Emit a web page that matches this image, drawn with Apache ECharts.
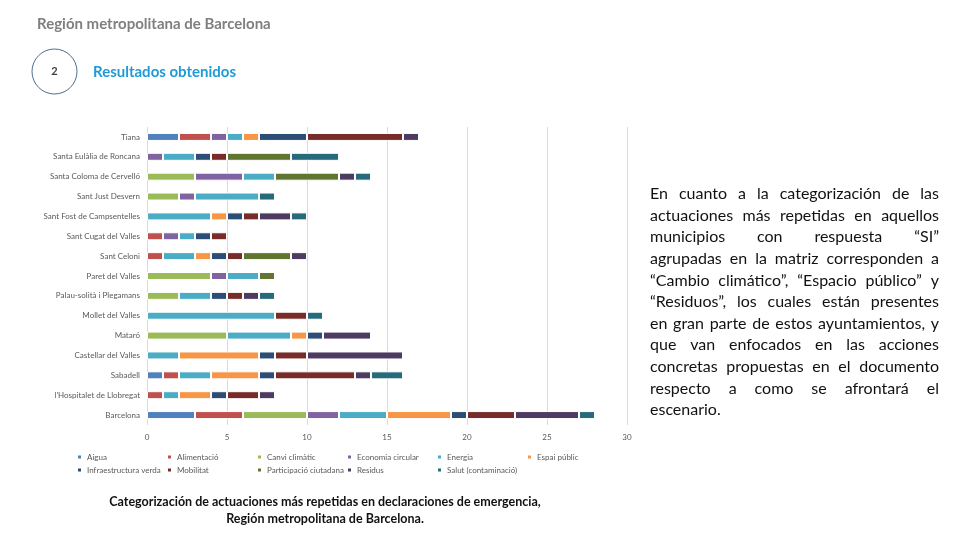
<!DOCTYPE html>
<html>
<head>
<meta charset="utf-8">
<script src="https://cdn.jsdelivr.net/npm/echarts@6/dist/echarts.min.js"></script>
<style>
html,body{margin:0;padding:0;background:#fff;}
#main{width:960px;height:540px;}
</style>
</head>
<body>
<div id="main"></div>
<script>
var municipios = ["Tiana","Santa Eulàlia de Roncana","Santa Coloma de Cervelló","Sant Just Desvern","Sant Fost de Campsentelles","Sant Cugat del Valles","Sant Celoni","Paret del Valles","Palau-solità i Plegamans","Mollet del Valles","Mataró","Castellar del Valles","Sabadell","l'Hospitalet de Llobregat","Barcelona"];
var categorias = ["Aigua","Alimentació","Canvi climàtic","Economia circular","Energia","Espai públic","Infraestructura verda","Mobilitat","Participació ciutadana","Residus","Salut (contaminació)"];
var aigua        = [2,0,0,0,0,0,0,0,0,0,0,0,1,0,3];
var alimentacio  = [2,0,0,0,0,1,1,0,0,0,0,0,1,1,3];
var canviClimatic= [0,0,3,2,0,0,0,4,2,0,5,0,0,0,4];
var economiaCirc = [1,1,3,1,0,1,0,1,0,0,0,0,0,0,2];
var energia      = [1,2,2,4,4,1,2,2,2,8,4,2,2,1,3];
var espaiPublic  = [1,0,0,0,1,0,1,0,0,0,1,5,3,2,4];
var infraVerda   = [3,1,0,0,1,1,1,0,1,0,1,1,1,1,1];
var mobilitat    = [6,1,0,0,1,1,1,0,1,2,0,2,5,2,3];
var participacio = [0,4,4,0,0,0,3,1,0,0,0,0,0,0,0];
var residus      = [1,0,1,0,2,0,1,0,1,0,3,6,1,1,4];
var salut        = [0,3,1,1,1,0,0,0,1,1,0,0,2,0,1];
var xTicks = [0,5,10,15,20,25,30];

var valores = [aigua,alimentacio,canviClimatic,economiaCirc,energia,espaiPublic,infraVerda,mobilitat,participacio,residus,salut];
var colores = ["#4F81BD","#C0504D","#9BBB59","#8064A2","#4BACC6","#F79646","#2C4D75","#772C2A","#5F7530","#4D3B62","#276A7C"];

var parrafo = [
 "En cuanto a la categorización de las",
 "actuaciones más repetidas en aquellos",
 "municipios con respuesta “SI”",
 "agrupadas en la matriz corresponden a",
 "“Cambio climático”, “Espacio público” y",
 "“Residuos”, los cuales están presentes",
 "en gran parte de estos ayuntamientos, y",
 "que van enfocados en las acciones",
 "concretas propuestas en el documento",
 "respecto a como se afrontará el",
 "escenario."
];

var chart = echarts.init(document.getElementById('main'));

var series = categorias.map(function(name, i){
  return {
    name: name,
    type: 'bar',
    stack: 'total',
    barWidth: 8,
    itemStyle: {color: colores[i], borderColor: '#ffffff', borderWidth: 1},
    emphasis: {disabled: true},
    data: valores[i].map(function(v){ return v ? v : '-'; })
  };
});

// paragraph justified via word placement
var pFont = '16px Lato';
var pLeft = 650, pRight = 939, pTop = 194, pLine = 21.6;
var cv = document.createElement('canvas').getContext('2d');
cv.font = pFont;
var graphics = [];
parrafo.forEach(function(line, li){
  var words = line.split(' ');
  var y = pTop + li * pLine;
  if (li === parrafo.length - 1 || words.length < 2) {
    graphics.push({type:'text', x:pLeft, y:y, style:{text:line, font:pFont, fill:'#111', textVerticalAlign:'middle'}});
    return;
  }
  var widths = words.map(function(w){ return cv.measureText(w).width; });
  var sum = widths.reduce(function(a,b){return a+b;},0);
  var gap = (pRight - pLeft - sum) / (words.length - 1);
  var x = pLeft;
  words.forEach(function(w, wi){
    graphics.push({type:'text', x:x, y:y, style:{text:w, font:pFont, fill:'#111', textVerticalAlign:'middle'}});
    x += widths[wi] + gap;
  });
});

graphics.push(
  {type:'text', x:37, y:24, style:{text:'Región metropolitana de Barcelona', font:'bold 15px Lato', fill:'#7f7f7f', textVerticalAlign:'middle'}},
  {type:'circle', shape:{cx:54.5, cy:71.5, r:22.5}, style:{fill:'none', stroke:'#4f6f8c', lineWidth:1}},
  {type:'text', x:54.5, y:71.5, style:{text:'2', font:'bold 11px Lato', fill:'#404040', textAlign:'center', textVerticalAlign:'middle'}},
  {type:'text', x:93, y:72, style:{text:'Resultados obtenidos', font:'bold 15px Lato', fill:'#1e9bd7', textVerticalAlign:'middle'}},
  {type:'text', x:325, y:502, style:{text:'Categorización de actuaciones más repetidas en declaraciones de emergencia,', font:'bold 12.5px Lato', fill:'#111', textAlign:'center', textVerticalAlign:'middle'}},
  {type:'text', x:325, y:519, style:{text:'Región metropolitana de Barcelona.', font:'bold 12.5px Lato', fill:'#111', textAlign:'center', textVerticalAlign:'middle'}}
);

var legends = categorias.map(function(name, i){
  return {
    data: [name],
    left: 71 + (i % 6) * 90,
    top: i < 6 ? 448 : 461,
    itemWidth: 5, itemHeight: 5, itemGap: 0, icon: 'rect',
    textStyle: {fontSize: 8, color: '#595959', fontFamily: 'Lato'},
    selectedMode: false
  };
});

chart.setOption({
  animation: false,
  textStyle: {fontFamily: 'Lato'},
  grid: {left: 147, right: 333, top: 127, bottom: 115, containLabel: false},
  xAxis: {
    type: 'value', min: xTicks[0], max: xTicks[xTicks.length-1], interval: 5,
    axisLine: {show: false}, axisTick: {show: false},
    splitLine: {show: true, lineStyle: {color: '#d9d9d9', width: 1}},
    axisLabel: {fontSize: 8, color: '#595959', margin: 8}
  },
  yAxis: {
    type: 'category', data: municipios, inverse: true,
    axisLine: {show: false}, axisTick: {show: false},
    axisLabel: {fontSize: 8, color: '#595959', margin: 7}
  },
  legend: legends,
  graphic: graphics,
  series: series
});
</script>
</body>
</html>
